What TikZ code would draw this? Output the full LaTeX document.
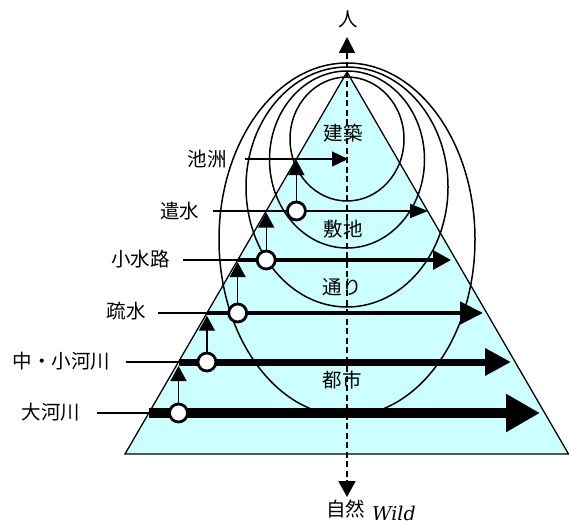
\documentclass[tikz,border=0pt]{standalone}
\usepackage{fontspec}
\newfontfamily\cjk{Noto Sans CJK JP}
\newfontfamily\wildfont{DejaVu Serif}
\usetikzlibrary{arrows.meta}
\definecolor{tri}{HTML}{CCFFFF}
\begin{document}
\begin{tikzpicture}[x=1pt,y=-1pt,
  lab/.style={font=\cjk\fontsize{19.5}{20}\selectfont, inner sep=0pt},
  ring/.style={draw=black, line width=1.5pt},
  hub/.style={circle, draw=black, fill=white, line width=2.8pt, minimum size=18pt, inner sep=0pt},
  feed/.style={line width=1.3pt},
  upar/.style={line width=1.3pt, -{Triangle[length=15pt,width=16pt]}},
]
\useasboundingbox (0,0) rectangle (569,524);
% pyramid
\coordinate (apex) at (347,72);
\coordinate (bl) at (125,454);
\coordinate (br) at (568.5,454);
\draw[fill=tri, line width=1.3pt, line join=miter] (apex) -- (bl) -- (br) -- cycle;
% nested ellipses
\draw[ring] (347,139) ellipse [x radius=57pt, y radius=62pt];
\draw[ring] (347,159.5) ellipse [x radius=77.5pt, y radius=88.5pt];
\draw[ring] (347,187) ellipse [x radius=101pt, y radius=120pt];
\draw[ring] (347,239.5) ellipse [x radius=128pt, y radius=176.5pt];
% axis
\coordinate (top) at (347,37);
\coordinate (bot) at (347,497);
\draw[line width=1.8pt, dash pattern=on 6pt off 3.5pt,
  {Triangle[length=16pt,width=16pt]}-{Triangle[length=16pt,width=17pt]}] (top) -- (bot);
% labels inside
\node[lab] (m1) at (343,133) {建築};
\node[lab] (m2) at (343,229) {敷地};
\node[lab] (m3) at (342,287) {通り};
\node[lab] (m4) at (342,380) {都市};
\node[lab] (hito) at (348,19) {人};
\node[lab] (shizen) at (345.5,509) {自然};
\node[font=\wildfont\itshape\fontsize{19}{19}\selectfont, anchor=base west, inner sep=0pt, text depth=0pt] (wild) at (372,520.5) {Wild};
% left labels
\node[lab] (n1) at (207,159) {池洲};
\node[lab] (n2) at (179.5,211) {遣水};
\node[lab] (n3) at (140.5,259) {小水路};
\node[lab] (n4) at (126,311) {疏水};
\node[lab] (n5) at (61.5,361) {中・小河川};
\node[lab] (n6) at (51,412) {大河川};
% line coordinates
\coordinate (s1) at (245,159); \coordinate (t1) at (348,159);
\coordinate (s2) at (213,211); \coordinate (e2) at (266.2,211); \coordinate (t2) at (428,211);
\coordinate (s3) at (183,260); \coordinate (e3) at (237.7,260); \coordinate (t3) at (451,260);
\coordinate (s4) at (158,313); \coordinate (e4) at (206.9,313); \coordinate (t4) at (483,313);
\coordinate (s5) at (126,362); \coordinate (e5) at (178.5,362); \coordinate (t5) at (511,362);
\coordinate (s6) at (97,413);  \coordinate (e6) at (148.8,413); \coordinate (t6) at (540,413);
% horizontal arrows
\draw[line width=1.3pt, -{Triangle[length=16pt,width=15pt]}] (s1) -- (t1);
\draw[feed] (s2) -- (e2);
\draw[line width=2pt, -{Triangle[length=18pt,width=14pt]}] (e2) -- (t2);
\draw[feed] (s3) -- (e3);
\draw[line width=3.5pt, -{Triangle[length=18pt,width=19pt]}] (e3) -- (t3);
\draw[feed] (s4) -- (e4);
\draw[line width=4.5pt, -{Triangle[length=23pt,width=22pt]}] (e4) -- (t4);
\draw[feed] (s5) -- (e5);
\draw[line width=7pt, -{Triangle[length=26pt,width=26pt]}] (e5) -- (t5);
\draw[feed] (s6) -- (e6);
\draw[line width=10pt, -{Triangle[length=34pt,width=36pt]}] (e6) -- (t6);
% hubs
\node[hub] (c2) at (296.4,211) {};
\node[hub] (c3) at (266.2,260) {};
\node[hub] (c4) at (237.7,313) {};
\node[hub] (c5) at (206.9,362) {};
\node[hub] (c6) at (178.5,413) {};
% vertical arrow tips
\coordinate (v1) at (296.4,160);
\coordinate (v2) at (266.2,212.5);
\coordinate (v3) at (237.7,262.2);
\coordinate (v4) at (206.9,315.7);
\coordinate (v5) at (178.5,366);
\draw[upar] (c2.north) -- (v1);
\draw[upar] (c3.north) -- (v2);
\draw[upar] (c4.north) -- (v3);
\draw[upar] (c5.north) -- (v4);
\draw[upar] (c6.north) -- (v5);
\end{tikzpicture}
\end{document}
